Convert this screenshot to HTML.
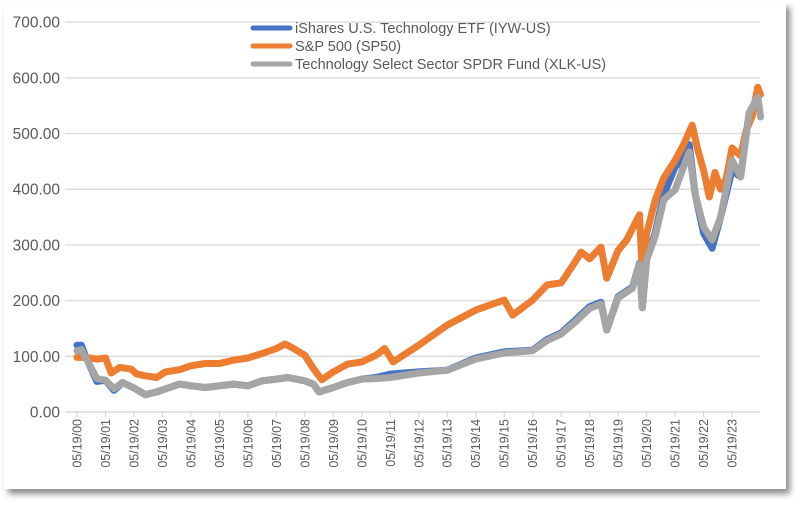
<!DOCTYPE html>
<html><head><meta charset="utf-8"><style>
body{margin:0;background:#fff;width:801px;height:505px;overflow:hidden;font-family:"Liberation Sans",sans-serif}
#card{position:absolute;left:4px;top:2px;width:782px;height:487px;background:#fff;box-shadow:4px 5px 6px rgba(0,0,0,0.45)}
svg{position:absolute;left:0;top:0}
</style></head><body>
<div id="card"></div>
<svg id="chart" width="801" height="505"></svg>
<script>
const yTicks=[0,100,200,300,400,500,600,700];
const xTickLabels=["05/19/00","05/19/01","05/19/02","05/19/03","05/19/04","05/19/05","05/19/06","05/19/07","05/19/08","05/19/09","05/19/10","05/19/11","05/19/12","05/19/13","05/19/14","05/19/15","05/19/16","05/19/17","05/19/18","05/19/19","05/19/20","05/19/21","05/19/22","05/19/23"];
const seriesNames=["iShares U.S. Technology ETF (IYW-US)","S&P 500 (SP50)","Technology Select Sector SPDR Fund (XLK-US)"];
const spT=[0,0.3,0.7,1,1.2,1.5,1.9,2.1,2.4,2.8,3.1,3.6,4,4.5,5,5.5,6,6.5,7,7.3,7.5,8,8.3,8.6,9,9.5,10,10.5,10.8,11.1,12,13,14,15,15.3,16,16.5,17,17.5,17.7,18,18.4,18.6,19,19.3,19.75,19.85,20,20.3,20.6,21,21.3,21.6,21.8,22,22.2,22.4,22.6,22.8,23,23.3,23.5,23.7,23.9,24];
const spV=[98,98,95,97,70,80,77,68,65,62,72,76,83,87,87,93,97,105,114,122,117,102,78,58,72,86,90,102,114,90,120,156,183,201,174,201,228,232,270,287,275,296,240,290,309,354,250,320,380,420,452,480,515,470,434,386,430,400,420,474,460,506,530,583,570];
const techT=[0,0.15,0.3,0.7,1,1.3,1.6,2,2.4,2.8,3.2,3.6,4,4.5,5,5.5,6,6.5,7,7.4,8,8.3,8.5,9,9.5,10,10.5,11,12,13,14,15,16,16.5,17,17.5,18,18.4,18.6,19,19.5,19.75,19.85,20,20.3,20.6,21,21.3,21.5,21.7,22,22.3,22.6,23,23.3,23.6,23.9,24];
const iywV=[120,120,100,55,57,39,53,43,31,36,43,50,47,44,47,50,47,56,59,62,56,50,36,44,53,59,62,68,72,75,97,108,111,130,142,165,189,197,147,207,224,267,187,273,321,390,440,455,480,393,321,294,350,434,422,537,565,530];
const xlkV=[110,112,98,60,57,42,53,43,31,36,43,50,47,44,47,50,47,56,59,62,56,50,36,44,53,59,60,62,70,75,95,106,110,128,140,162,186,194,147,205,222,265,187,273,315,381,399,440,467,393,332,309,350,452,422,537,565,530];
const colors=["#4472C4","#ED7D31","#A5A5A5"];
const NS="http://www.w3.org/2000/svg";
const svg=document.getElementById('chart');
const x0=77,xStep=28.48,y0=412,yUnit=55.7/100;
const xs=t=>x0+t*xStep, ys=v=>y0-v*yUnit;
function mk(tag,at){const e=document.createElementNS(NS,tag);for(const k in at)e.setAttribute(k,at[k]);svg.appendChild(e);return e;}
yTicks.forEach(v=>{
  const g=mk('line',{x1:x0-12,x2:760,y1:ys(v),y2:ys(v),stroke:v===0?'#d0d0d0':'#d9d9d9','stroke-width':1.3});
  
  
  const t=mk('text',{x:60,y:ys(v)+5.5,'text-anchor':'end','font-size':15.5,fill:'#595959'});
  t.textContent=v.toFixed(2);
  
  
});
xTickLabels.forEach((l,i)=>{
  const x=xs(i);
  const tk=mk('line',{x1:x,x2:x,y1:y0,y2:y0+5,stroke:'#d0d0d0','stroke-width':1});
  
  
  const t=mk('text',{x:0,y:0,'text-anchor':'end','font-size':12.5,fill:'#595959',transform:`translate(${x+4.5},${y0+7}) rotate(-90)`});
  t.textContent=l;
  
  
});
function line(T,V,c,name){
  const d=T.map((t,i)=>(i?'L':'M')+xs(t).toFixed(1)+','+ys(V[i]).toFixed(1)).join('');
  const p=mk('path',{d:d,fill:'none',stroke:c,'stroke-width':7,'stroke-linejoin':'round','stroke-linecap':'round'});
  
  
}
line(techT,iywV,colors[0],'series-iyw');
line(spT,spV,colors[1],'series-sp500');
line(techT,xlkV,colors[2],'series-xlk');
seriesNames.forEach((n,i)=>{
  const y=28+i*18;
  const s=mk('line',{x1:253,x2:290,y1:y,y2:y,stroke:colors[i],'stroke-width':5,'stroke-linecap':'round'});
  
  
  const t=mk('text',{x:295,y:y+5,'font-size':14.5,fill:'#595959'});
  t.textContent=n;
  
  
});
</script>
</body></html>
